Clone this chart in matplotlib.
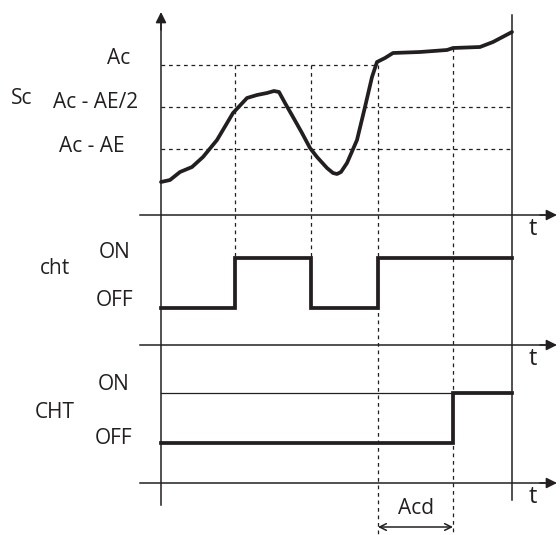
import matplotlib.pyplot as plt

plt.rcParams['font.family'] = ['Open Sans', 'DejaVu Sans']

# time positions (pixel-like units of the drawing)
t0, t_end = 161, 512
t_ev = [235, 311, 378, 453]          # switching instants

# temperature curve
curve_t = [161, 170, 180, 192, 203, 217, 233, 247, 257, 267, 274, 279, 285, 293, 302, 310,
           317, 327, 333, 337, 341, 347, 357, 365, 372, 377, 385, 393, 420, 447, 453, 480, 493, 512]
curve_v = [182, 180, 172, 167, 157, 140, 113, 98, 95, 93, 91, 92, 103, 117, 133, 148,
           157, 168, 173, 174, 172, 163, 140, 107, 77, 62, 58, 53, 52, 50, 48, 47, 42, 32]

# threshold levels
lev_names = ['Ac', 'Ac - AE/2', 'Ac - AE']
lev_y = [65, 107, 149]

# axes baselines
base_y = [215, 345, 483]

# cht / CHT step signals
cht_t = [161, 235, 235, 311, 311, 378, 378, 512]
cht_v = [308, 308, 258, 258, 308, 308, 258, 258]
CHT_t = [161, 453, 453, 512]
CHT_v = [443, 443, 393, 393]

fig = plt.figure(figsize=(5.6, 5.35), dpi=100)
ax = fig.add_axes([0, 0, 1, 1])
ax.set_xlim(0, 560)
ax.set_ylim(535, 0)
ax.axis('off')

k = '#231f20'
arr = dict(arrowstyle='-|>', color=k, lw=1.1, mutation_scale=16, shrinkA=0, shrinkB=0)

# main vertical axis with arrow
ax.plot([t0, t0], [505, 20], color=k, lw=1.1)
ax.annotate('', xy=(t0, 12), xytext=(t0, 30), arrowprops=arr)
# right boundary
ax.plot([t_end, t_end], [15, 500], color=k, lw=1.1)

# horizontal time axes
for y in base_y:
    ax.plot([140, 545], [y, y], color=k, lw=1.1)
    ax.annotate('', xy=(557, y), xytext=(540, y), arrowprops=arr)
    ax.text(533, y + 14, 't', fontsize=17, ha='center', va='center', color=k)

# dashed level lines
ax.plot([t0, 377], [lev_y[0], lev_y[0]], color=k, lw=0.9, ls=(0, (3, 3)))
for y in lev_y[1:]:
    ax.plot([t0, t_end], [y, y], color=k, lw=0.9, ls=(0, (3, 3)))

# dashed vertical markers
ax.plot([t_ev[0]] * 2, [lev_y[0], 258], color=k, lw=0.9, ls=(0, (3, 3)))
ax.plot([t_ev[1]] * 2, [lev_y[0], 258], color=k, lw=0.9, ls=(0, (3, 3)))
ax.plot([t_ev[2]] * 2, [lev_y[0], 535], color=k, lw=0.9, ls=(0, (3, 3)))
ax.plot([t_ev[3]] * 2, [48, 535], color=k, lw=0.9, ls=(0, (3, 3)))

# curve
ax.plot(curve_t, curve_v, color=k, lw=2.7, solid_joinstyle='round', solid_capstyle='round')

# signals
ax.plot(cht_t, cht_v, color=k, lw=2.7, solid_joinstyle='miter')
ax.plot([t0, t_end], [393, 393], color=k, lw=0.9)
ax.plot(CHT_t, CHT_v, color=k, lw=2.7, solid_joinstyle='miter')

# labels
fs = 15
ax.text(119, 59, lev_names[0], fontsize=fs, ha='center', va='center', color=k)
ax.text(96, 103, lev_names[1], fontsize=fs, ha='center', va='center', color=k)
ax.text(92, 146, lev_names[2], fontsize=fs, ha='center', va='center', color=k)
ax.text(22, 99, 'Sc', fontsize=fs, ha='center', va='center', color=k)

ax.text(55, 268, 'cht', fontsize=fs, ha='center', va='center', color=k)
ax.text(115, 252, 'ON', fontsize=fs, ha='center', va='center', color=k)
ax.text(115, 300, 'OFF', fontsize=fs, ha='center', va='center', color=k)

ax.text(55, 412, 'CHT', fontsize=fs, ha='center', va='center', color=k)
ax.text(114, 384, 'ON', fontsize=fs, ha='center', va='center', color=k)
ax.text(114, 439, 'OFF', fontsize=fs, ha='center', va='center', color=k)

# Acd delay
ax.text(416, 508, 'Acd', fontsize=fs, ha='center', va='center', color=k)
ax.annotate('', xy=(t_ev[2], 527), xytext=(t_ev[3], 527),
            arrowprops=dict(arrowstyle='<->', color=k, lw=1.1, mutation_scale=12,
                            shrinkA=0, shrinkB=0))

fig.savefig('out.png', dpi=100)
